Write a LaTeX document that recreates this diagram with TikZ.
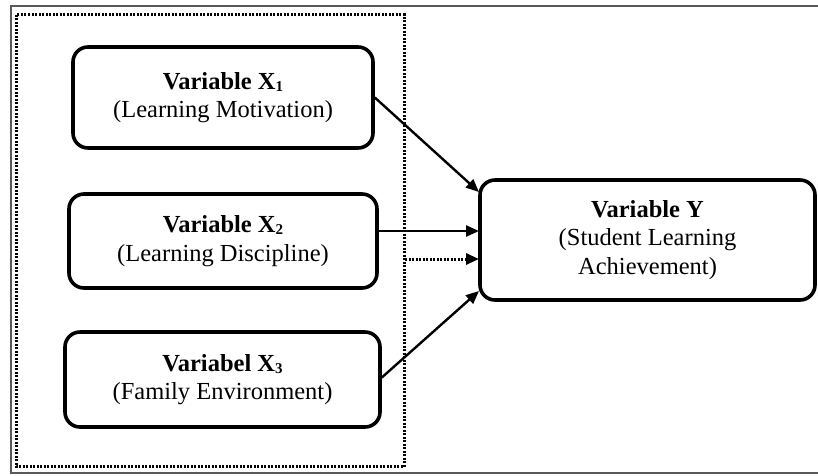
\documentclass[tikz,border=0pt]{standalone}
\usepackage{fontspec}
\setmainfont{Liberation Serif}
\usetikzlibrary{arrows.meta}
\newcommand{\vsub}[1]{\raisebox{-0.2ex}{\fontsize{15}{15}\selectfont #1}}
\tikzset{
  varbox/.style={draw=black, line width=3.6pt, rounded corners=15pt, align=center,
    font=\fontsize{24.5}{28.5}\selectfont, inner sep=0pt},
  link/.style={line width=2.4pt, -{Triangle[length=13pt,width=11pt]}},
  dotline/.style={line width=3pt, dash pattern=on 2pt off 1.5pt},
}
\begin{document}
\begin{tikzpicture}[x=1pt,y=-1pt]
\useasboundingbox (0,0) rectangle (818,475);
% outer frame (right side cut off)
\draw[gray!70!black, line width=2pt] (818,5.5) -- (10.5,5.5) -- (10.5,473) -- (818,473);
% dotted grouping box
\draw[dotline] (16,14.5) rectangle (404,466.5);
% variable boxes
\node[varbox, minimum width=300pt, minimum height=101pt] (x1) at (223,97.5)
  {\textbf{Variable X\vsub{1}}\\(Learning Motivation)};
\node[varbox, minimum width=308pt, minimum height=94pt] (x2) at (223,241)
  {\textbf{Variable X\vsub{2}}\\(Learning Discipline)};
\node[varbox, minimum width=315pt, minimum height=95pt] (x3) at (222.5,379.5)
  {\textbf{Variabel X\vsub{3}}\\(Family Environment)};
\node[varbox, minimum width=335pt, minimum height=120pt] (y) at (647.5,240)
  {\textbf{Variable Y}\\(Student Learning\\Achievement)};
% connectors
\coordinate (a1) at (x1.east);
\coordinate (t1) at (479,192);
\coordinate (a2) at (x2.east |- 0,231);
\coordinate (t2) at (479,231);
\coordinate (d0) at (405,259);
\coordinate (d1) at (479,259);
\coordinate (a3) at ([yshift=2pt]x3.east);
\coordinate (t3) at (479,291);
\draw[link] (a1) -- (t1);
\draw[link] (a2) -- (t2);
\draw[dotline, -{Triangle[length=13pt,width=11pt]}] (d0) -- (d1);
\draw[link] (a3) -- (t3);
\end{tikzpicture}
\end{document}
